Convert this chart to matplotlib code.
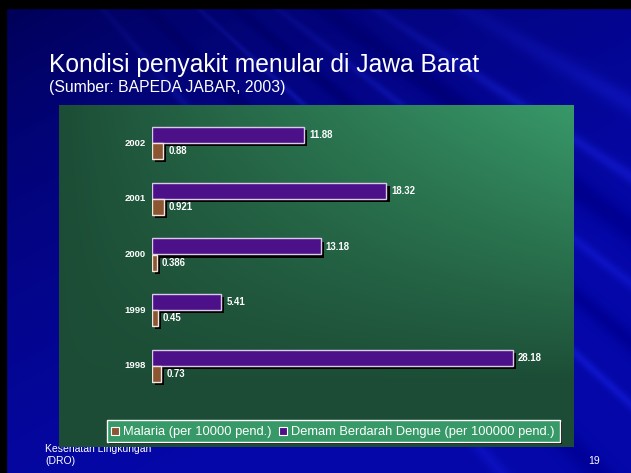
import numpy as np
import matplotlib
matplotlib.use("Agg")
import matplotlib.pyplot as plt
from matplotlib.patches import Rectangle
import matplotlib.patheffects as pe

plt.rcParams['font.family'] = ['Liberation Sans', 'DejaVu Sans']

# ---- data ----
years = ['1998', '1999', '2000', '2001', '2002']
malaria = [0.73, 0.45, 0.386, 0.921, 0.88]
dbd = [28.18, 5.41, 13.18, 18.32, 11.88]
malaria_labels = ['0.73', '0.45', '0.386', '0.921', '0.88']
dbd_labels = ['28.18', '5.41', '13.18', '18.32', '11.88']
legend_labels = ['Malaria (per 10000 pend.)', 'Demam Berdarah Dengue (per 100000 pend.)']
title = 'Kondisi penyakit menular di Jawa Barat'
subtitle = '(Sumber: BAPEDA JABAR, 2003)'
footer = 'Kesehatan Lingkungan\n(DRO)'
page = '19'

W, H = 631, 473
fig = plt.figure(figsize=(W / 100, H / 100), dpi=100)


def fx(px):
    return px / W


def fy(py):
    return 1 - py / H


# ---- slide background ----
bg = fig.add_axes([0, 0, 1, 1])
bg.set_axis_off()
bg.set_xlim(0, W)
bg.set_ylim(H, 0)
yy, xx = np.mgrid[0:H, 0:W].astype(float)
t = np.clip(0.6 * xx / W + 0.85 * yy / H, 0, 1) ** 0.7
dark = np.array([0.0, 0.0, 0.32])
blue = np.array([0.02, 0.03, 0.66])
img = dark[None, None, :] * (1 - t[..., None]) + blue[None, None, :] * t[..., None]
# rays from a point beyond the upper left
ang = np.arctan2(yy + 400, xx + 250)
ray = np.zeros_like(ang)
for a0, w, s in [(0.52, 0.010, 0.10), (0.58, 0.006, 0.12), (0.62, 0.012, -0.08),
                 (0.66, 0.005, 0.10), (0.70, 0.008, -0.07), (0.74, 0.004, 0.12),
                 (0.80, 0.010, -0.06), (0.86, 0.006, 0.08)]:
    ray += s * np.exp(-((ang - a0) / w) ** 2)
ray *= np.clip(yy / 150 + 0.4, 0, 1)
img = np.clip(img + ray[..., None] * np.array([0.3, 0.4, 1.0])[None, None, :], 0, 1)
bg.imshow(img, extent=(0, W, H, 0), aspect='auto', zorder=0)
bg.add_patch(Rectangle((0, 0), W, 8, color='black', zorder=1))
bg.add_patch(Rectangle((0, 0), 6, H, color='black', zorder=1))

bg.text(49, 72, title, fontsize=17.7, color='white', va='baseline', ha='left', zorder=2)
bg.text(49, 92, subtitle, fontsize=11.3, color='white', va='baseline', ha='left', zorder=2)
bg.text(45, 452, footer.split('\n')[0], fontsize=7.5, color='white', va='baseline',
        ha='left', zorder=2)
bg.text(45, 464, footer.split('\n')[1], fontsize=7.5, color='white', va='baseline',
        ha='left', zorder=2)
bg.text(588, 464, page, fontsize=7.5, color='white', va='baseline', ha='left', zorder=2)

# ---- green chart panel ----
px0, px1, py0, py1 = 59, 574, 105, 447
panel = fig.add_axes([fx(px0), fy(py1), fx(px1 - px0), (py1 - py0) / H])
panel.set_axis_off()
ph, pw = py1 - py0, px1 - px0
gy, gx = np.mgrid[0:ph, 0:pw].astype(float)
xf = gx / pw
yf = gy / ph
tg = np.clip(xf, 0, 1) ** 0.9 * np.clip(1 - yf * 1.25, 0, 1) ** 0.9
gdark = np.array([0.11, 0.30, 0.21])
glight = np.array([0.22, 0.60, 0.41])
gimg = gdark[None, None, :] * (1 - tg[..., None]) + glight[None, None, :] * tg[..., None]
panel.imshow(gimg, extent=(0, 1, 0, 1), aspect='auto')

# ---- bar chart ----
x_left = 152
scale = 12.8  # px per unit
xmax = 30
spacing = (366 - 143) / 4
top_px = 143 - spacing / 2
bot_px = 366 + spacing / 2
ax = fig.add_axes([fx(x_left), fy(bot_px), fx(xmax * scale), (bot_px - top_px) / H])
ax.patch.set_alpha(0)
ax.set_axis_off()
ax.set_xlim(0, xmax)
ax.set_ylim(-0.5, 4.5)

h = 16 / spacing
ypos = np.arange(len(years))
shadow = [pe.SimplePatchShadow(offset=(2.2, -2.2), shadow_rgbFace='black', alpha=1.0), pe.Normal()]
ax.barh(ypos + h / 2, dbd, height=h, color='#4c1188', edgecolor='#d9cbe8', linewidth=1.0,
        path_effects=shadow, zorder=3)
ax.barh(ypos - h / 2, malaria, height=h, color='#8c5632', edgecolor='#f0e8e0', linewidth=1.0,
        path_effects=shadow, zorder=3)

for i in range(len(years)):
    ax.annotate(dbd_labels[i], xy=(dbd[i], ypos[i] + h / 2), xytext=(5, 0),
                textcoords='offset pixels', va='center', ha='left', fontsize=6.9,
                fontweight='bold', color='white', zorder=4)
    ax.annotate(malaria_labels[i], xy=(malaria[i], ypos[i] - h / 2), xytext=(5, 0),
                textcoords='offset pixels', va='center', ha='left', fontsize=6.9,
                fontweight='bold', color='white', zorder=4)
    ax.annotate(years[i], xy=(0, ypos[i]), xytext=(-6, 0), textcoords='offset pixels',
                va='center', ha='right', fontsize=6.8, fontweight='bold', color='white',
                zorder=4)

# ---- legend ----
ov = fig.add_axes([0, 0, 1, 1])
ov.patch.set_alpha(0)
ov.set_axis_off()
ov.set_xlim(0, W)
ov.set_ylim(H, 0)
box_shadow = [pe.SimplePatchShadow(offset=(1.5, -1.5), shadow_rgbFace='black', alpha=1.0), pe.Normal()]
ov.add_patch(Rectangle((107, 420), 453, 22, facecolor='#379968', edgecolor='white',
                       linewidth=1.0, path_effects=box_shadow, zorder=2))
ov.add_patch(Rectangle((111, 427), 8, 8, facecolor='#8c5632', edgecolor='white',
                       linewidth=0.8, zorder=3))
ov.text(123, 431.5, legend_labels[0], fontsize=9.3, color='white', va='center',
        ha='left', zorder=3)
ov.add_patch(Rectangle((279, 427), 8, 8, facecolor='#4c1188', edgecolor='white',
                       linewidth=0.8, zorder=3))
ov.text(291, 431.5, legend_labels[1], fontsize=9.3, color='white', va='center',
        ha='left', zorder=3)

fig.savefig('out.png', dpi=100)
